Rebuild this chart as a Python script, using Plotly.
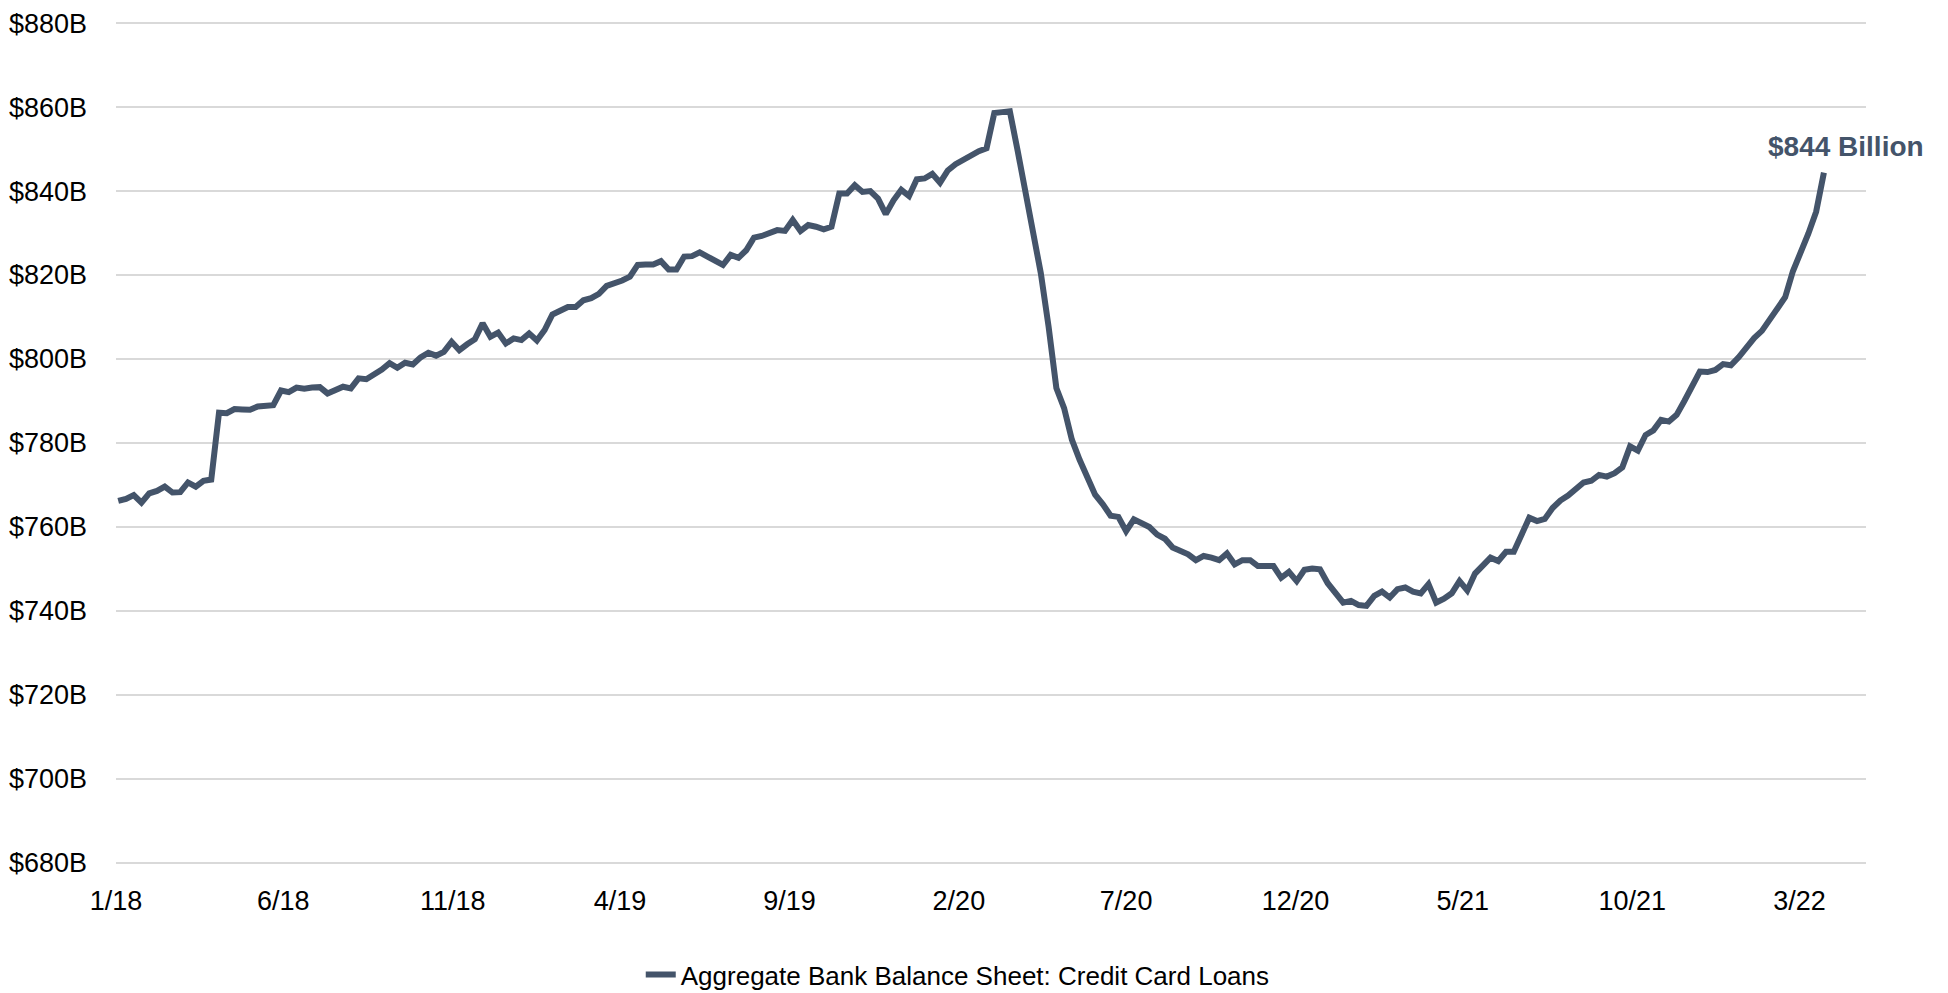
import pandas as pd
import plotly.graph_objects as go

# Weekly observations (Wednesdays) starting 2018-01-03
start_date = "2018-01-03"
loans_bn = [
    766.2, 766.7, 767.6, 765.8, 768.0, 768.6, 769.6, 768.2, 768.3, 770.6,
    769.6, 771.0, 771.3, 787.2, 787.1, 788.1, 788.0, 787.9, 788.7, 788.8,
    789.0, 792.5, 792.1, 793.2, 792.9, 793.2, 793.3, 791.8, 792.8, 793.4,
    793.0, 795.4, 795.2, 796.3, 797.5, 799.0, 797.9, 799.1, 798.7, 800.4,
    801.5, 800.8, 801.7, 804.1, 802.1, 803.5, 804.7, 808.5, 805.3, 806.3,
    803.7, 804.9, 804.5, 806.1, 804.4, 806.9, 810.6, 811.5, 812.4, 812.4,
    814.0, 814.5, 815.5, 817.4, 818.0, 818.7, 819.6, 822.4, 822.5, 822.5,
    823.3, 821.3, 821.3, 824.4, 824.5, 825.4, 824.4, 823.4, 822.4, 824.8,
    824.1, 825.9, 828.9, 829.3, 829.9, 830.7, 830.5, 833.1, 830.5, 831.9,
    831.5, 830.9, 831.5, 839.4, 839.4, 841.4, 839.8, 840.0, 838.2, 834.5,
    837.8, 840.3, 838.8, 842.8, 843.0, 844.1, 842.0, 844.9, 846.4, 847.5,
    848.7, 849.5, 850.2, 858.6, 858.8, 859.0, 849.7, 840.2, 831.5, 820.4,
    807.7, 793.1, 788.3, 780.8, 776.0, 771.7, 767.7, 765.4, 762.7, 762.4,
    759.0, 761.8, 760.8, 760.0, 758.2, 757.2, 755.1, 754.3, 753.5, 752.1,
    753.1, 752.7, 752.1, 753.7, 751.1, 752.1, 752.1, 750.7, 750.7, 750.7,
    747.9, 749.3, 747.1, 749.8, 750.1, 749.9, 746.6, 744.2, 742.0, 742.4,
    741.4, 741.2, 743.6, 744.6, 743.2, 745.2, 745.6, 744.6, 744.2, 746.4,
    742.0, 742.9, 744.2, 747.1, 744.9, 748.9, 750.7, 752.7, 751.9, 754.1,
    754.1, 757.8, 762.2, 761.4, 761.9, 764.5, 766.3, 767.5, 769.0, 770.6,
    771.0, 772.4, 772.0, 772.8, 774.2, 779.2, 778.2, 781.9, 783.0, 785.5,
    785.1, 786.7, 790.0, 793.7, 797.0, 796.9, 797.4, 798.8, 798.5, 800.4,
    802.9, 805.0, 806.7, 809.5, 811.9, 814.7, 820.9, 825.0, 829.9, 835.1,
    844.4,
]
dates = pd.date_range(start_date, periods=len(loans_bn), freq="7D")

series_name = "Aggregate Bank Balance Sheet: Credit Card Loans"
x_tick_dates = ["2018-01-01", "2018-06-01", "2018-11-01", "2019-04-01", "2019-09-01",
                "2020-02-01", "2020-07-01", "2020-12-01", "2021-05-01", "2021-10-01",
                "2022-03-01"]
x_tick_labels = ["1/18", "6/18", "11/18", "4/19", "9/19", "2/20", "7/20", "12/20",
                 "5/21", "10/21", "3/22"]
y_tick_vals = [680, 700, 720, 740, 760, 780, 800, 820, 840, 860, 880]
y_tick_labels = [f"${v}B" for v in y_tick_vals]
end_label = "$844 Billion"

LINE = "#44546A"
FONT = "Liberation Sans Narrow, Arial Narrow, Liberation Sans, Arial, sans-serif"

fig = go.Figure()
fig.add_trace(go.Scatter(
    x=dates, y=loans_bn, mode="lines", name=series_name,
    line=dict(color=LINE, width=6),
))

fig.add_annotation(
    x=dates[-1], y=loans_bn[-1], text=f"<b>{end_label}</b>",
    showarrow=False, xanchor="center", yanchor="middle",
    xshift=22, yshift=26,
    font=dict(family=FONT, size=28, color=LINE),
)

# The page body adds an 8px offset; the figure is sized to fill the rest of the window.
fig.update_layout(
    width=1940, height=985,
    margin=dict(l=108, r=82, t=13, b=128, autoexpand=False),
    paper_bgcolor="white", plot_bgcolor="white",
    font=dict(family=FONT, size=27, color="black"),
    showlegend=True,
    legend=dict(
        orientation="h", x=0.481, xanchor="center", y=-0.130, yanchor="middle",
        font=dict(family=FONT, size=26, color="black"),
        bgcolor="rgba(0,0,0,0)",
    ),
    xaxis=dict(
        type="date", range=["2018-01-01", "2022-04-30"],
        tickvals=x_tick_dates, ticktext=x_tick_labels,
        showgrid=False, showline=False, zeroline=False, ticks="",
        ticklabelstandoff=17, automargin=False,
        tickfont=dict(family=FONT, size=27, color="black"),
    ),
    yaxis=dict(
        range=[679.5, 880.5], tickvals=y_tick_vals, ticktext=y_tick_labels,
        showgrid=True, gridcolor="#D9D9D9", gridwidth=2,
        showline=False, zeroline=False, ticks="",
        ticklabelstandoff=28, automargin=False,
        tickfont=dict(family=FONT, size=27, color="black"),
    ),
)

fig.write_html("out.html")
